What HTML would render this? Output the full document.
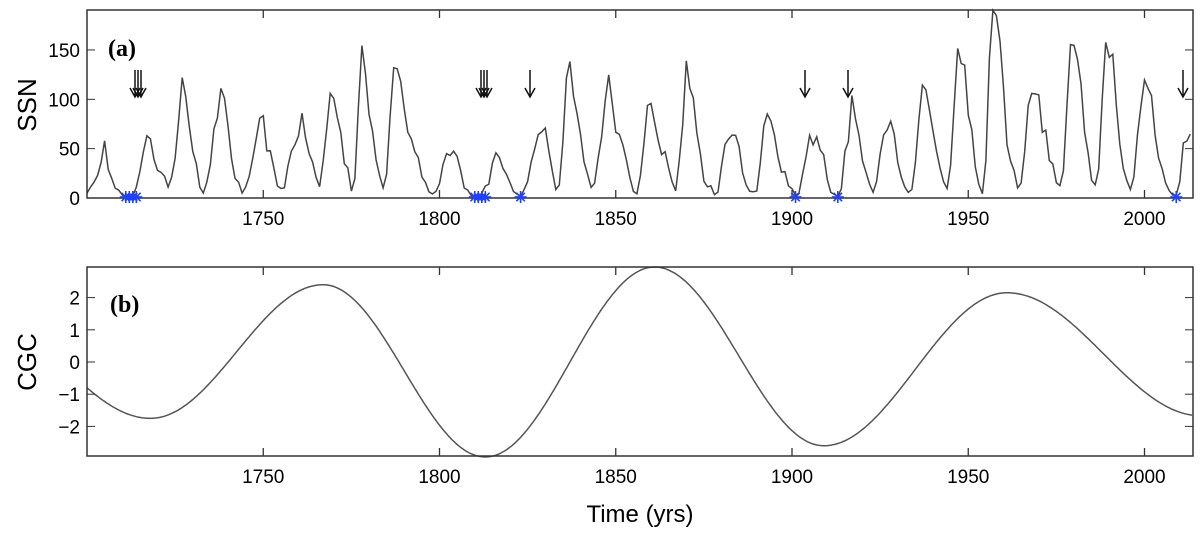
<!DOCTYPE html>
<html><head><meta charset="utf-8"><style>
html,body{margin:0;padding:0;background:#fff;}
svg{display:block;font-family:"Liberation Sans",Arial,sans-serif;}
</style></head><body>
<svg id="s" width="1200" height="533" viewBox="0 0 1200 533" xmlns="http://www.w3.org/2000/svg">
<rect width="1200" height="533" fill="#fff"/>
<g id="g"></g>
<text x="108" y="56" font-family="Liberation Serif,serif" font-weight="bold" font-size="24">(a)</text>
<text x="110" y="312" font-family="Liberation Serif,serif" font-weight="bold" font-size="24">(b)</text>
<text transform="translate(36,105) rotate(-90)" text-anchor="middle" font-size="26">SSN</text>
<text transform="translate(36,362) rotate(-90)" text-anchor="middle" font-size="26">CGC</text>
<text x="640" y="522" text-anchor="middle" font-size="24">Time (yrs)</text>
</svg>
<script>
var ssn=[5,11,16,23,36,58,29,20,10,8,3,0,0,2,11,27,47,63,60,39,28,26,22,11,21,40,78,122,103,73,47,35,11,5,16,34,70,81,111,101,73,40,20,16,5,11,22,40,60,80.9,83.4,47.7,47.8,30.7,12.2,9.6,10.2,32.4,47.6,54,62.9,85.9,61.2,45.1,36.4,20.9,11.4,37.8,69.8,106.1,100.8,81.6,66.5,34.8,30.6,7,19.8,92.5,154.4,125.9,84.8,68.1,38.5,22.8,10.2,24.1,82.9,132,130.9,118.1,89.9,66.6,60,46.9,41,21.3,16,6.4,4.1,6.8,14.5,34,45,43.1,47.5,42.2,28.1,10.1,8.1,2.5,0,1.4,5,12.2,13.9,35.4,45.8,41,30.1,23.9,15.6,6.6,4,1.8,8.5,16.6,36.3,49.6,64.2,67,70.9,47.8,27.5,8.5,13.2,56.9,121.5,138.3,103.2,85.7,64.6,36.7,24.2,10.7,15,40.1,61.5,98.5,124.7,96.3,66.6,64.5,54.1,39,20.6,6.7,4.3,22.7,54.8,93.8,95.8,77.2,59.1,44,47,30.5,16.3,7.3,37.6,74,139,111.2,101.6,66.2,44.7,17,11.3,12.4,3.4,6,32.3,54.3,59.7,63.7,63.5,52.2,25.4,13.1,6.8,6.3,7.1,35.6,73,85.1,78,64,41.8,26.2,26.7,12.1,9.5,2.7,5,24.4,42,63.5,53.8,62,48.5,43.9,18.6,5.7,3.6,1.4,9.6,47.4,57.1,103.9,80.6,63.6,37.6,26.1,14.2,5.8,16.7,44.3,63.9,69,77.8,64.9,35.7,21.2,11.1,5.7,8.7,36.1,79.7,114.4,109.6,88.8,67.8,47.5,30.6,16.3,9.6,33.2,92.6,151.6,136.3,134.7,83.9,69.4,31.5,13.9,4.4,38,141.7,190.2,184.8,159,112.3,53.9,37.6,27.9,10.2,15.1,47,93.8,105.9,105.5,104.5,66.6,68.9,38,34.5,15.5,12.6,27.5,92.5,155.4,154.6,140.4,115.9,66.6,45.9,17.9,13.4,29.4,100.2,157.6,142.6,145.7,94.3,54.6,29.9,17.5,8.6,21.5,64.3,93.3,119.6,111,104,63.7,40.4,29.8,15.2,7.5,2.9,3.1,16.5,55.7,57.6,64.7];
var L=87,R=1193,K=3.525;
function X(y){return L+(y-1700)*K;}
var T1=10,B1=198;function Y1(v){return B1-v*0.987;}
var T2=267,B2=456;function Y2(v){return 362-v*32.2;}
var h='';
var d='';ssn.forEach(function(v,i){d+=(i?'L':'M')+X(1700+i).toFixed(1)+','+Y1(v).toFixed(1);});
h+='<path d="'+d+'" fill="none" stroke="#444" stroke-width="1.5"/>';
var ex=[[1700,-0.8],[1718,-1.75],[1767,2.4],[1813,-2.95],[1861,2.95],[1909,-2.6],[1961,2.15],[2013.7,-1.65]];
d='';
for(var t=1700;t<=2013.71;t+=0.5){
 var v;
 if(t<1718){var p=(1718-t)/49; v=-1.75+0.95*(1-Math.cos(Math.PI*p))/(1-Math.cos(Math.PI*18/49));}
 else if(t>1961){var p=(t-1961)/55; v=2.15-3.82*(1-Math.cos(Math.PI*p))/2;}
 else{for(var k=1;k<6;k++){if(t>=ex[k][0]&&t<=ex[k+1][0]){var a=ex[k],b=ex[k+1],p=(t-a[0])/(b[0]-a[0]);v=a[1]+(b[1]-a[1])*(1-Math.cos(Math.PI*p))/2;}}}
 d+=(d?'L':'M')+X(t).toFixed(1)+','+Y2(v).toFixed(1);
}
h+='<path d="'+d+'" fill="none" stroke="#555" stroke-width="1.5"/>';
[[T1,B1],[T2,B2]].forEach(function(f){h+='<rect x="'+L+'" y="'+f[0]+'" width="'+(R-L)+'" height="'+(f[1]-f[0])+'" fill="none" stroke="#333" stroke-width="1.5"/>';
 [1750,1800,1850,1900,1950,2000].forEach(function(y){var x=X(y);
  h+='<line x1="'+x+'" y1="'+f[0]+'" x2="'+x+'" y2="'+(f[0]+8)+'" stroke="#333" stroke-width="1.3"/><line x1="'+x+'" y1="'+f[1]+'" x2="'+x+'" y2="'+(f[1]-8)+'" stroke="#333" stroke-width="1.3"/>';
  h+='<text x="'+x+'" y="'+(f[1]+27)+'" text-anchor="middle" font-size="19">'+y+'</text>';});});
[0,50,100,150].forEach(function(v){var y=Y1(v);h+='<line x1="'+L+'" y1="'+y+'" x2="'+(L+8)+'" y2="'+y+'" stroke="#333"/><line x1="'+R+'" y1="'+y+'" x2="'+(R-8)+'" y2="'+y+'" stroke="#333"/><text x="80" y="'+(y+7)+'" text-anchor="end" font-size="19">'+v+'</text>';});
[-2,-1,0,1,2].forEach(function(v){var y=Y2(v);h+='<line x1="'+L+'" y1="'+y+'" x2="'+(L+8)+'" y2="'+y+'" stroke="#333"/><line x1="'+R+'" y1="'+y+'" x2="'+(R-8)+'" y2="'+y+'" stroke="#333"/><text x="80" y="'+(y+7)+'" text-anchor="end" font-size="19">'+(v<0?'\u2212'+(-v):v)+'</text>';});
[1711,1712,1713,1714,1810,1811,1812,1813,1823,1901,1913,2009].forEach(function(y){var x=X(y),c=197;
 for(var a=0;a<4;a++){var an=a*Math.PI/4;h+='<line x1="'+(x-6*Math.cos(an))+'" y1="'+(c-6*Math.sin(an))+'" x2="'+(x+6*Math.cos(an))+'" y2="'+(c+6*Math.sin(an))+'" stroke="#2040ff" stroke-width="1.6"/>';}});
[135,138,141,481,484,487,530,805,848,1183].forEach(function(x){h+='<line x1="'+x+'" y1="70" x2="'+x+'" y2="96" stroke="#111" stroke-width="1.5"/><path d="M'+(x-5)+',88 L'+x+',97 L'+(x+5)+',88" fill="none" stroke="#111" stroke-width="1.5"/>';});
document.getElementById('g').innerHTML=h;
</script>
</body></html>
